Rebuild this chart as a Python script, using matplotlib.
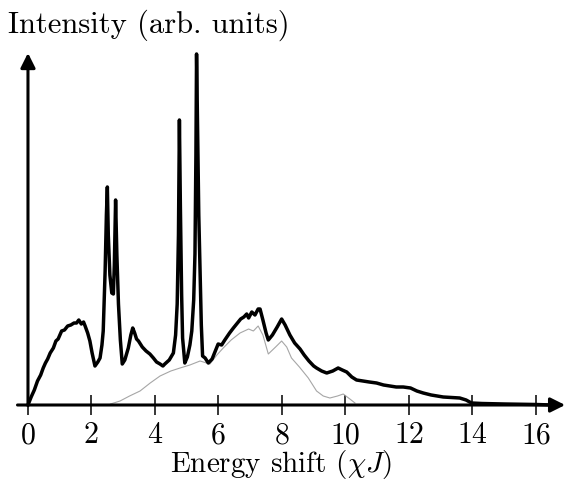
import numpy as np
import matplotlib
matplotlib.use('Agg')
import matplotlib.pyplot as plt

# FONTS: Computer Modern look (bundled with matplotlib)
plt.rcParams['font.family'] = ['cmr10', 'DejaVu Serif']
plt.rcParams['mathtext.fontset'] = 'cm'
plt.rcParams['axes.unicode_minus'] = False

# DATA: full spectrum (thick black)
x_full = [0.00, 0.10, 0.20, 0.30, 0.40, 0.48, 0.55, 0.62, 0.70, 0.80, 0.88, 0.95,
          1.06, 1.15, 1.25, 1.35, 1.45, 1.53, 1.60, 1.68, 1.75, 1.80, 1.88, 1.95,
          2.02, 2.11, 2.20, 2.27, 2.33, 2.37, 2.43, 2.47, 2.50, 2.53, 2.58, 2.64,
          2.69, 2.72, 2.76, 2.80, 2.85, 2.91, 2.97, 3.05, 3.16, 3.24, 3.30, 3.36,
          3.42, 3.48, 3.60, 3.72, 3.84, 3.95, 4.05, 4.16, 4.25, 4.31, 4.45, 4.58,
          4.65, 4.70, 4.74, 4.77, 4.80, 4.84, 4.87, 4.94, 5.02, 5.10, 5.16, 5.22,
          5.26, 5.29, 5.31, 5.34, 5.38, 5.42, 5.46, 5.50, 5.58, 5.68, 5.80, 5.99,
          6.10, 6.20, 6.35, 6.47, 6.60, 6.70, 6.80, 6.89, 6.95, 7.05, 7.15, 7.25,
          7.31, 7.40, 7.50, 7.57, 7.70, 7.85, 7.99, 8.10, 8.25, 8.40, 8.57, 8.70,
          8.85, 9.00, 9.09, 9.25, 9.41, 9.60, 9.77, 9.90, 10.04, 10.20, 10.35, 10.55,
          10.75, 10.98, 11.20, 11.40, 11.60, 11.82, 12.05, 12.25, 12.45, 12.70, 12.90, 13.08,
          13.35, 13.60, 13.80, 13.97, 14.30, 15.00, 16.00, 16.50]
y_full = [0, 8, 15, 24, 30, 37, 42, 46, 52, 57, 64, 66,
          74, 75, 79, 80, 82, 82, 85, 81, 83, 79, 72, 64,
          52, 39, 43, 47, 60, 74, 134, 190, 218, 170, 130, 112,
          111, 140, 205, 150, 101, 65, 41, 45, 57, 70, 77, 72,
          66, 64, 58, 54, 51, 47, 43, 41, 39, 41, 45, 52,
          70, 101, 170, 285, 200, 110, 67, 42, 48, 60, 74, 105,
          151, 250, 351, 280, 190, 134, 80, 49, 47, 42, 46, 61,
          60, 65, 72, 77, 82, 86, 88, 91, 87, 93, 90, 96,
          96, 85, 72, 65, 70, 78, 86, 80, 70, 62, 56, 50,
          44, 39, 37, 34, 32, 34, 37, 35, 33, 28, 25, 24,
          23, 22, 20, 19, 18, 18, 17, 14, 12, 10, 9, 8,
          7.5, 7, 5, 2, 1.5, 1, 0.5, 0]

# DATA: partial contribution (thin gray)
x_part = [2.60, 2.90, 3.20, 3.53, 3.85, 4.16, 4.50, 4.79, 5.10, 5.42, 5.73, 5.95,
          6.15, 6.40, 6.68, 6.95, 7.10, 7.25, 7.40, 7.57, 7.80, 7.99, 8.15, 8.30,
          8.55, 8.83, 9.09, 9.30, 9.51, 9.75, 9.93, 10.14, 10.30]
y_part = [1, 4, 9, 14, 22, 29, 34, 37, 40, 44, 41, 50,
          57, 65, 72, 76, 74, 79, 70, 51, 58, 64, 58, 47,
          38, 27, 14, 9, 7, 9, 11, 6, 2]

xticks = [0, 2, 4, 6, 8, 10, 12, 14, 16]
xticklabels = ['0', '2', '4', '6', '8', '10', '12', '14', '16']

# FIGURE
W, H = 564, 480
fig = plt.figure(figsize=(W/100, H/100), dpi=100)
ax = fig.add_axes([17.5/W, 75/H, 547/W, 360/H])

ax.plot(x_part, y_part, color='0.65', lw=0.8, clip_on=False, zorder=2)
ax.plot(x_full, y_full, color='black', lw=2.5, clip_on=False, zorder=3)

ax.set_xlim(-0.33, 16.9)
ax.set_ylim(0, 360)

# axes as arrows
for s in ax.spines.values():
    s.set_visible(False)
ax.annotate('', xy=(16.92, 0), xytext=(-0.33, 0), annotation_clip=False,
            arrowprops=dict(arrowstyle='-|>', lw=2.2, color='black',
                            mutation_scale=22, shrinkA=0, shrinkB=0))
ax.annotate('', xy=(0, 352), xytext=(0, 0), annotation_clip=False,
            arrowprops=dict(arrowstyle='-|>', lw=2.2, color='black',
                            mutation_scale=22, shrinkA=0, shrinkB=0))

ax.set_xticks(xticks)
ax.set_xticklabels(xticklabels)
ax.set_yticks([])
ax.tick_params(axis='x', direction='inout', length=14.4, width=1.1,
               labelsize=21.5, pad=5)

# LABELS
fig.text(281/W, 1 - 472/H, r'Energy shift ($\chi J$)', fontsize=21,
         ha='center', va='baseline')
fig.text(8/W, 1 - 33/H, 'Intensity (arb. units)', fontsize=22,
         ha='left', va='baseline')

fig.savefig('out.png', dpi=100)
